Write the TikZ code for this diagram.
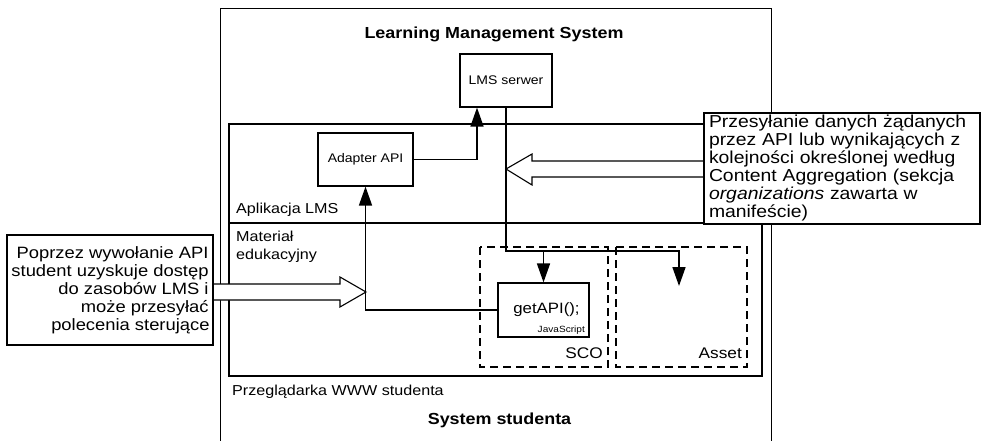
\documentclass[tikz,border=0pt]{standalone}
\usepackage{fontspec}
\setmainfont{Liberation Sans}[FakeStretch=1.12]
\usetikzlibrary{arrows.meta}
\begin{document}
\begin{tikzpicture}[x=1pt,y=-1pt,
  outerline/.style={line width=0.9pt},
  unit/.style={draw, line width=1.2pt, fill=white, inner sep=0pt},
  conn/.style={line width=1.6pt},
  arr/.style={-{Triangle[length=19pt,width=13pt]}},
  zone/.style={draw, line width=1.1pt, dash pattern=on 8pt off 5pt},
  hollow/.style={draw, fill=white, line width=1.1pt, line join=miter},
  notebox/.style={draw, fill=white, line width=1.1pt, inner sep=0pt},
  lab/.style={inner sep=0pt, font=\fontsize{14.4}{18}\selectfont},
  heading/.style={inner sep=0pt, font=\fontsize{16}{18}\selectfont\bfseries},
]
\useasboundingbox (0,0) rectangle (982,441);

% system frames (LMS above, student system below)
\draw[outerline] (220,441) -- (220,8) -- (771,8) -- (771,441);

% web browser with the LMS application strip on top
\draw[line width=1.1pt] (229,124) rectangle (762,376);
\draw[line width=1.1pt] (229,223) -- (762,223);

% content packages
\draw[zone] (480,247) rectangle (608,367);
\draw[zone] (616,247) rectangle (747,367);

% components
\node[unit, minimum width=92pt, minimum height=53pt, font=\fontsize{12.5}{14}\selectfont]
  (lms) at (506,80.5) {LMS serwer};
\node[unit, minimum width=95pt, minimum height=53pt, font=\fontsize{12.5}{14}\selectfont]
  (adapter) at (365.5,159.5) {Adapter API};
\node[unit, minimum width=91pt, minimum height=54pt, font=\fontsize{15}{16}\selectfont]
  (getapi) at (543.5,310) {\hspace*{6pt}getAPI();};
\node[inner sep=0pt, anchor=base east, font=\fontsize{9}{10}\selectfont]
  (js) at (585,332) {JavaScript};

% data flow
\coordinate (bend) at (679,251);
\coordinate (assetin) at (679,286);
\draw[conn, arr] (adapter.east) -| ([xshift=-29pt]lms.south);
\draw[conn, arr] (lms.south) |- (bend) -- (assetin);
\draw[conn, arr] (getapi.north |- bend) -- (getapi.north);
\draw[conn, arr] (getapi.west) -| (adapter.south);

% wide explanatory arrows
\draw[hollow] (704,161) -- (532,161) -- (532,154) -- (506,169) -- (532,185) -- (532,177) -- (704,177);
\draw[hollow] (213,284) -- (340,284) -- (340,277) -- (366,292) -- (340,307) -- (340,300) -- (213,300);

% explanatory notes
\node[notebox, minimum width=276pt, minimum height=111pt, text width=266pt, align=left,
  font=\fontsize{17.3}{18}\selectfont] (note) at (842,168.5)
  {Przesyłanie danych żądanych\\przez API lub wynikających z\\kolejności określonej według\\Content Aggregation (sekcja\\\textit{organizations} zawarta w\\manifeście)};
\node[notebox, minimum width=206pt, minimum height=110pt, align=right,
  font=\fontsize{16.4}{18}\selectfont] (hint) at (110,290)
  {Poprzez wywołanie API\\student uzyskuje dostęp\\do zasobów LMS i\\może przesyłać\\polecenia sterujące\hspace*{-1pt}};

% labels
\node[heading, anchor=base] (lmstitle) at (494,39) {Learning Management System};
\node[heading, anchor=base] (sttitle) at (499.5,424) {System studenta};
\node[lab, anchor=base west] (applab) at (236,213) {Aplikacja LMS};
\node[lab, anchor=north west, align=left] (matlab) at (236,230.5) {Materiał\\edukacyjny};
\node[lab, anchor=base west] (browlab) at (232,395) {Przeglądarka WWW studenta};
\node[inner sep=0pt, anchor=base east, font=\fontsize{15.4}{16}\selectfont] (scolab) at (603,358) {SCO};
\node[inner sep=0pt, anchor=base east, font=\fontsize{15.4}{16}\selectfont] (assetlab) at (742,358) {Asset};
\end{tikzpicture}
\end{document}
